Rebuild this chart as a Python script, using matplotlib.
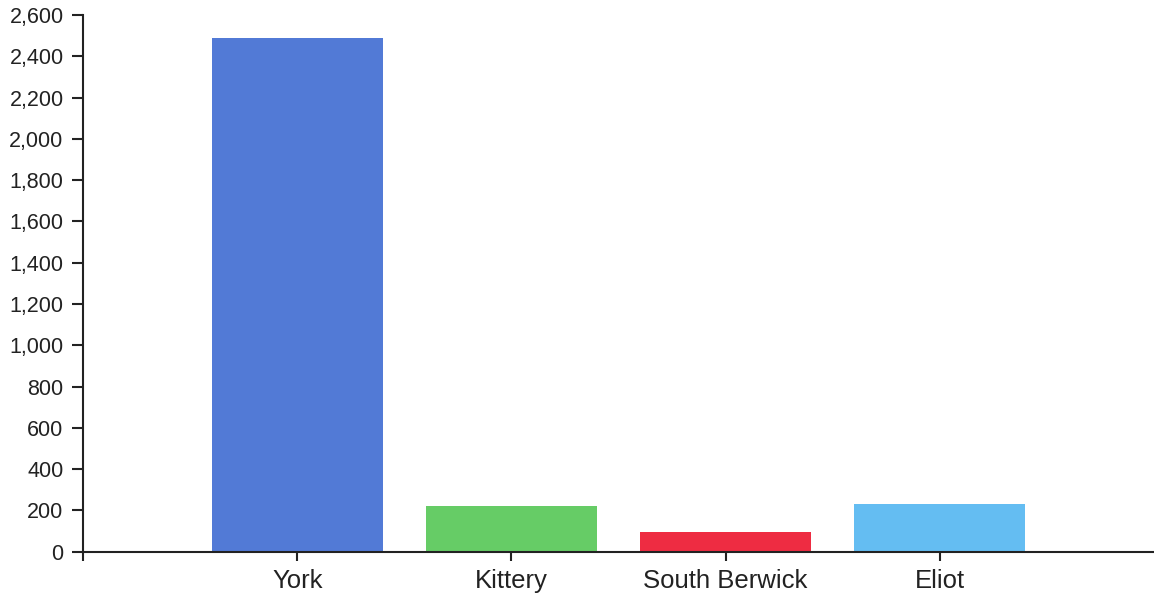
import matplotlib.pyplot as plt

# towns and their counts
towns = ["York", "Kittery", "South Berwick", "Eliot"]
counts = [2490, 223, 97, 233]
colors = ["#527ad6", "#66cc66", "#ee2c42", "#64bdf2"]

plt.rcParams['font.family'] = ['Liberation Sans', 'DejaVu Sans']

fig = plt.figure(figsize=(11.54, 6.0), dpi=100)
ax = fig.add_axes([83 / 1154, 48.3 / 600, 1 - 83 / 1154, 536.7 / 600])

positions = list(range(1, len(towns) + 1))
ax.bar(positions, counts, width=0.8, color=colors, edgecolor='none')

ax.set_xlim(0, 5)
ax.set_ylim(0, 2600)
ax.set_yticks(range(0, 2601, 200))
ax.set_yticklabels([f"{v:,}" for v in range(0, 2601, 200)])
ax.set_xticks([0] + positions)
ax.set_xticklabels([""] + towns)

for side in ["top", "right"]:
    ax.spines[side].set_visible(False)
for side in ["left", "bottom"]:
    ax.spines[side].set_color("#222222")
    ax.spines[side].set_linewidth(1.5)

ax.tick_params(axis='y', length=8, width=1.5, color="#222222", pad=6,
               labelsize=15.5, labelcolor="#222222")
ax.tick_params(axis='x', length=6.5, width=1.5, color="#222222", pad=6,
               labelsize=18.5, labelcolor="#222222")

fig.savefig("out.png", dpi=100)
